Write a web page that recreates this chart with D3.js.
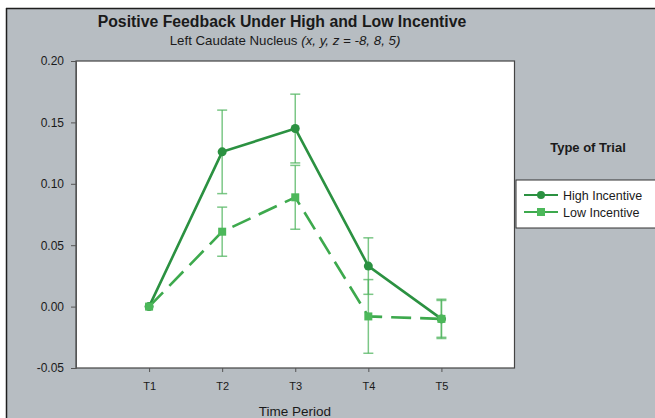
<!DOCTYPE html>
<html>
<head>
<meta charset="utf-8">
<script src="https://cdn.jsdelivr.net/npm/d3@7"></script>
<style>
  body { margin: 0; background: #fff; }
  text { font-family: "Liberation Sans", Arial, sans-serif; fill: #1a1a1a; }
</style>
</head>
<body>
<div id="chart"></div>
<script>
// data
var periods = ["T1", "T2", "T3", "T4", "T5"];
var highMean = [0.000, 0.126, 0.145, 0.033, -0.010];
var highErr  = [0.000, 0.034, 0.028, 0.023, 0.016];
var lowMean  = [0.000, 0.061, 0.089, -0.008, -0.010];
var lowErr   = [0.000, 0.020, 0.026, 0.030, 0.015];
var yTicks   = [-0.05, 0.00, 0.05, 0.10, 0.15, 0.20];

var W = 655, H = 418;
var plot = {left: 76, top: 61, right: 514.5, bottom: 368};

var svg = d3.select('#chart').append('svg')
    .attr('width', W).attr('height', H);

// grey panel with dark border top/left
svg.append('rect').attr('x', 6).attr('y', 8).attr('width', W - 6).attr('height', H - 8)
    .attr('fill', '#b7bdc2');
svg.append('line').attr('x1', 6.5).attr('x2', 6.5).attr('y1', 8).attr('y2', H)
    .attr('stroke', '#1e1e1e').attr('stroke-width', 1.5);
svg.append('line').attr('x1', 6).attr('x2', W).attr('y1', 8.5).attr('y2', 8.5)
    .attr('stroke', '#1e1e1e').attr('stroke-width', 1.5);

// plot area
svg.append('rect').attr('x', plot.left).attr('y', plot.top)
    .attr('width', plot.right - plot.left).attr('height', plot.bottom - plot.top)
    .attr('fill', '#fff').attr('stroke', '#444').attr('stroke-width', 1.2);

var x = d3.scaleLinear().domain([0, 6]).range([plot.left, plot.right]);
var y = d3.scaleLinear().domain([-0.05, 0.20]).range([plot.bottom, plot.top]);

// plain hyphen for negatives, like the original
var fmt = function(d){ return d.toFixed(2); };

var yAxis = svg.append('g').attr('transform', 'translate(' + plot.left + ',0)')
    .call(d3.axisLeft(y).tickValues(yTicks).tickFormat(fmt).tickSize(5).tickPadding(7));
yAxis.select('.domain').attr('stroke', '#555');
yAxis.selectAll('.tick line').attr('stroke', '#555');
yAxis.selectAll('text').style('font-size', '12px').attr('fill', '#222');

var xAxis = svg.append('g').attr('transform', 'translate(0,' + plot.bottom + ')')
    .call(d3.axisBottom(x).tickValues([1, 2, 3, 4, 5])
        .tickFormat(function(d){ return periods[d - 1]; }).tickSize(4).tickPadding(10));
xAxis.select('.domain').remove();
xAxis.selectAll('.tick line').attr('stroke', '#555');
xAxis.selectAll('text').style('font-size', '11px').attr('fill', '#222');

// titles
svg.append('text').attr('x', 282).attr('y', 27).attr('text-anchor', 'middle')
    .style('font-size', '15.8px').style('font-weight', 'bold').text('Positive Feedback Under High and Low Incentive');
var sub = svg.append('text').attr('x', 285).attr('y', 45).attr('text-anchor', 'middle')
    .style('font-size', '13.3px');
sub.append('tspan').text('Left Caudate Nucleus ');
sub.append('tspan').style('font-style', 'italic').text('(x, y, z = -8, 8, 5)');

svg.append('text').attr('x', 295).attr('y', 416).attr('text-anchor', 'middle')
    .style('font-size', '13.5px').text('Time Period');

var series = [
  {name: 'High Incentive', mean: highMean, err: highErr, color: '#2b9141', dash: null, marker: 'circle'},
  {name: 'Low Incentive', mean: lowMean, err: lowErr, color: '#3da94d', dash: '20,9', marker: 'square'}
];
var barColor = 'rgba(80,180,95,0.75)';

var line = d3.line().x(function(d, i){ return x(i + 1); }).y(function(d){ return y(d); });

series.forEach(function(s) {
  var g = svg.append('g');
  // error bars
  s.mean.forEach(function(m, i) {
    if (!s.err[i]) return;
    var cx = x(i + 1), top = y(m + s.err[i]), bot = y(m - s.err[i]);
    g.append('line').attr('x1', cx).attr('x2', cx).attr('y1', top).attr('y2', bot)
        .attr('stroke', barColor).attr('stroke-width', 1.5);
    [top, bot].forEach(function(v) {
      g.append('line').attr('x1', cx - 5).attr('x2', cx + 5).attr('y1', v).attr('y2', v)
          .attr('stroke', barColor).attr('stroke-width', 1.5);
    });
  });
  g.append('path').datum(s.mean).attr('d', line).attr('fill', 'none')
      .attr('stroke', s.color).attr('stroke-width', 2.6)
      .attr('stroke-dasharray', s.dash);
  s.mean.forEach(function(m, i) {
    if (s.marker === 'circle') {
      g.append('circle').attr('cx', x(i + 1)).attr('cy', y(m)).attr('r', 4.5).attr('fill', s.color);
    } else {
      g.append('rect').attr('x', x(i + 1) - 4).attr('y', y(m) - 4)
          .attr('width', 8).attr('height', 8).attr('fill', '#4cb85a');
    }
  });
});

// legend
svg.append('text').attr('x', 588).attr('y', 152).attr('text-anchor', 'middle')
    .style('font-size', '13px').style('font-weight', 'bold').text('Type of Trial');
svg.append('rect').attr('x', 516).attr('y', 180).attr('width', W - 516 + 2).attr('height', 48)
    .attr('fill', '#fff').attr('stroke', '#333').attr('stroke-width', 1);
series.forEach(function(s, i) {
  var ly = 195 + i * 17;
  svg.append('line').attr('x1', 524).attr('x2', 558).attr('y1', ly).attr('y2', ly)
      .attr('stroke', s.color).attr('stroke-width', 2);
  if (s.marker === 'circle') {
    svg.append('circle').attr('cx', 541).attr('cy', ly).attr('r', 4).attr('fill', s.color);
  } else {
    svg.append('rect').attr('x', 537).attr('y', ly - 4).attr('width', 8).attr('height', 8).attr('fill', '#4cb85a');
  }
  svg.append('text').attr('x', 563).attr('y', ly + 4.5).style('font-size', '12.5px').text(s.name);
});
</script>
</body>
</html>
